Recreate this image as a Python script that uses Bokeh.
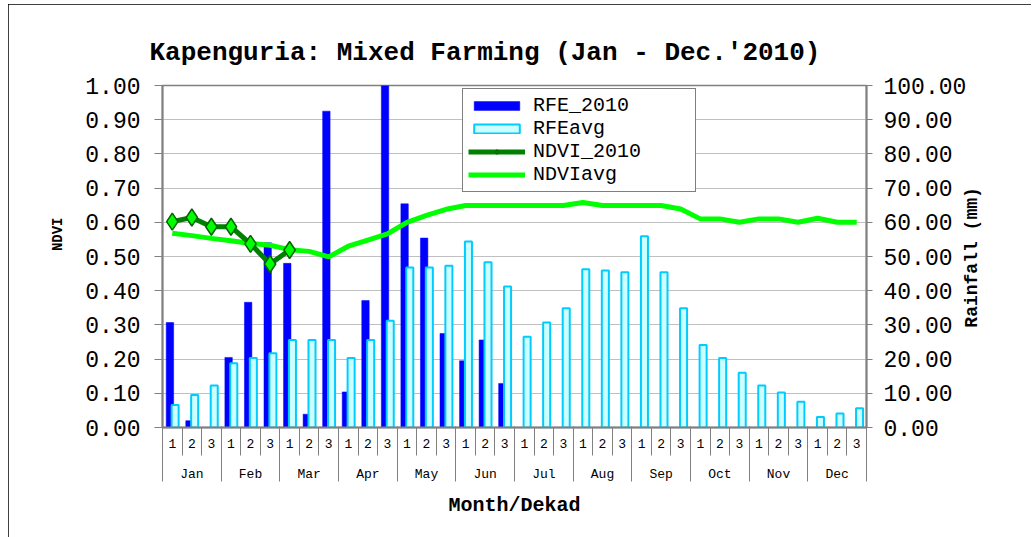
import math
from bokeh.plotting import figure
from bokeh.models import (Range1d, LinearAxis, FixedTicker, PrintfTickFormatter,
                          Legend, LegendItem, ColumnDataSource)
from bokeh.transform import dodge
from bokeh.embed import file_html
from bokeh.resources import INLINE

# ---------------- data ----------------
months = ["Jan", "Feb", "Mar", "Apr", "May", "Jun",
          "Jul", "Aug", "Sep", "Oct", "Nov", "Dec"]
dekads = ["1", "2", "3"]

rfe_2010 = [30.7, 2.0, 0.0, 20.5, 36.6, 54.0, 48.0, 3.9, 92.5, 10.4, 37.1, 101.0,
            65.4, 55.4, 27.5, 19.5, 25.6, 12.9, 0, 0, 0, 0, 0, 0,
            0, 0, 0, 0, 0, 0, 0, 0, 0, 0, 0, 0]
rfe_avg = [6.6, 9.5, 12.3, 18.8, 20.3, 21.7, 25.6, 25.6, 25.6, 20.3, 25.6, 31.2,
           46.8, 46.8, 47.3, 54.4, 48.3, 41.2, 26.5, 30.7, 34.9, 46.3, 45.9, 45.4,
           55.9, 45.4, 34.9, 24.1, 20.3, 16.0, 12.3, 10.2, 7.5, 3.1, 4.1, 5.6]
ndvi_2010 = [0.602, 0.614, 0.587, 0.587, 0.537, 0.478, 0.519]
ndvi_avg = [0.568, 0.561, 0.553, 0.546, 0.538, 0.533, 0.520, 0.515, 0.499, 0.530, 0.548, 0.566,
            0.600, 0.620, 0.638, 0.649, 0.649, 0.649, 0.649, 0.649, 0.649, 0.658, 0.649, 0.649,
            0.649, 0.649, 0.639, 0.610, 0.610, 0.600, 0.610, 0.610, 0.600, 0.612, 0.600, 0.600]

left_ticks = [round(i * 0.1, 1) for i in range(11)]
right_ticks = [i * 10 for i in range(11)]
ndvi_title = "NDVI"
ndvi_title_at = 0.614     # top end of the vertical NDVI title on the NDVI scale
rain_title = "Rainfall (mm)"
rain_title_at = 29.2      # bottom end of the vertical rainfall title on the rainfall scale

n = len(months) * len(dekads)
xc = [i + 0.5 for i in range(n)]

FONT = "Liberation Mono"
GREY = "#808080"

p = figure(width=1023, height=533, output_backend="svg", toolbar_location=None,
           x_range=Range1d(0, n), y_range=Range1d(0, 1),
           x_axis_location=None,
           min_border_left=154, min_border_right=165,
           min_border_top=81, min_border_bottom=110)
p.styles = {"margin": "4px 0px 0px 8px",
            "outline": "1px solid #000000", "outline-offset": "-1px"}
p.extra_y_ranges = {"rain": Range1d(0, 100)}
p.outline_line_color = GREY
p.outline_line_width = 1.5
p.background_fill_color = "white"
p.border_fill_color = "white"

# title
p.title.text = "Kapenguria: Mixed Farming (Jan - Dec.'2010)"
p.title.text_font = FONT
p.title.text_font_size = "26px"
p.title.text_font_style = "bold"
p.title.text_color = "black"
p.title.align = "left"
p.title.offset = -13
p.title.standoff = 35

# left axis
ya = p.yaxis[0]
ya.ticker = FixedTicker(ticks=left_ticks)
ya.formatter = PrintfTickFormatter(format="%.2f")
ya.major_label_text_font = FONT
ya.major_label_text_font_size = "23px"
ya.major_label_text_color = "black"
ya.major_label_standoff = 14
ya.major_tick_out = 8
ya.major_tick_in = 0
ya.minor_tick_out = 0
ya.minor_tick_in = 0
ya.major_tick_line_color = GREY
ya.axis_line_color = GREY
ya.axis_line_width = 2

# left axis title, reading bottom-to-top
yl = LinearAxis(ticker=FixedTicker(ticks=[ndvi_title_at]))
yl.major_label_overrides = {ndvi_title_at: ndvi_title}
yl.major_label_orientation = math.pi / 2
yl.major_label_text_font = FONT
yl.major_label_text_font_size = "14px"
yl.major_label_text_font_style = "bold"
yl.major_label_text_color = "black"
yl.major_label_standoff = 24
yl.axis_line_color = None
yl.major_tick_out = 0
yl.major_tick_in = 0
yl.minor_tick_out = 0
yl.minor_tick_in = 0
p.add_layout(yl, "left")

p.ygrid.ticker = FixedTicker(ticks=left_ticks)
p.ygrid.grid_line_color = "#c0c0c0"
p.ygrid.grid_line_width = 1
p.xgrid.visible = False

# right axis (ticks)
ra = LinearAxis(y_range_name="rain",
                ticker=FixedTicker(ticks=right_ticks),
                formatter=PrintfTickFormatter(format="%.2f"))
ra.major_label_text_font = FONT
ra.major_label_text_font_size = "23px"
ra.major_label_text_color = "black"
ra.major_label_standoff = 11
ra.major_tick_out = 6
ra.major_tick_in = 0
ra.minor_tick_out = 0
ra.minor_tick_in = 0
ra.major_tick_line_color = GREY
ra.axis_line_color = GREY
ra.axis_line_width = 2
p.add_layout(ra, "right")

# right axis title, reading bottom-to-top
rl = LinearAxis(y_range_name="rain", ticker=FixedTicker(ticks=[rain_title_at]))
rl.major_label_overrides = {rain_title_at: rain_title}
rl.major_label_orientation = math.pi / 2
rl.major_label_text_font = FONT
rl.major_label_text_font_size = "18px"
rl.major_label_text_font_style = "bold"
rl.major_label_text_color = "black"
rl.major_label_standoff = 3
rl.axis_line_color = None
rl.major_tick_out = 0
rl.major_tick_in = 0
rl.minor_tick_out = 0
rl.minor_tick_in = 0
p.add_layout(rl, "right")

# bottom axes: dekads (next to the frame) and months (stacked below)
H_LABEL = 13
DEK_STANDOFF = -17
SIZE_A = 28 + DEK_STANDOFF + H_LABEL
boundaries = list(range(n + 1))
dek_axis = LinearAxis(ticker=FixedTicker(ticks=xc, minor_ticks=boundaries))
dek_axis.major_label_overrides = {xc[i]: dekads[i % 3] for i in range(n)}
dek_axis.major_label_text_font = FONT
dek_axis.major_label_text_font_size = "13px"
dek_axis.major_label_text_color = "black"
dek_axis.major_label_standoff = DEK_STANDOFF
dek_axis.major_tick_out = 0
dek_axis.major_tick_in = 0
dek_axis.minor_tick_out = 28
dek_axis.minor_tick_in = 0
dek_axis.minor_tick_line_color = GREY
dek_axis.axis_line_color = GREY
dek_axis.axis_line_width = 2
p.add_layout(dek_axis, "below")

mcent = [3 * j + 1.5 for j in range(len(months))]
mbound = [3 * j for j in range(len(months) + 1)]
mon_axis = LinearAxis(ticker=FixedTicker(ticks=mcent, minor_ticks=mbound))
mon_axis.major_label_overrides = {mcent[j]: months[j] for j in range(len(months))}
mon_axis.major_label_text_font = FONT
mon_axis.major_label_text_font_size = "13px"
mon_axis.major_label_text_color = "black"
mon_axis.major_label_standoff = 16 - (55 - SIZE_A)
mon_axis.major_tick_out = 0
mon_axis.major_tick_in = 0
mon_axis.minor_tick_out = 55 - SIZE_A
mon_axis.minor_tick_in = SIZE_A
mon_axis.minor_tick_line_color = GREY
mon_axis.axis_line_color = None
mon_axis.axis_label = "Month/Dekad"
mon_axis.axis_label_text_font = FONT
mon_axis.axis_label_text_font_size = "20px"
mon_axis.axis_label_text_font_style = "bold"
mon_axis.axis_label_text_color = "black"
mon_axis.axis_label_standoff = 9
p.add_layout(mon_axis, "below")

# ---------------- glyphs ----------------
src = ColumnDataSource(dict(x=xc, rfe=rfe_2010, avg=rfe_avg, navg=ndvi_avg))
src_n = ColumnDataSource(dict(x=xc[:len(ndvi_2010)], nd=ndvi_2010))

r_rfe = p.vbar(x=dodge("x", -0.12, range=p.x_range), top="rfe", source=src,
               width=0.38, bottom=0, y_range_name="rain",
               fill_color="#0000ff", line_color="#0000ff", line_width=0.5)
r_avg = p.vbar(x=dodge("x", 0.145, range=p.x_range), top="avg", source=src,
               width=0.36, bottom=0, y_range_name="rain",
               fill_color="#ccffff", line_color="#00ccff", line_width=2)

r_navg = p.line(x="x", y="navg", source=src, line_color="#00ff00", line_width=5)
r_nl = p.line(x="x", y="nd", source=src_n, line_color="#008000", line_width=5)
r_nm = p.scatter(x="x", y="nd", source=src_n, marker="diamond", size=17,
                 fill_color="#00ff00", line_color="#006400", line_width=1.5)

legend = Legend(items=[
    LegendItem(label="RFE_2010", renderers=[r_rfe]),
    LegendItem(label="RFEavg", renderers=[r_avg]),
    LegendItem(label="NDVI_2010", renderers=[r_nl, r_nm]),
    LegendItem(label="NDVIavg", renderers=[r_navg]),
], location=(300, 235))
legend.label_text_font = FONT
legend.label_text_font_size = "20px"
legend.label_text_color = "black"
legend.glyph_width = 57
legend.glyph_height = 11
legend.label_standoff = 8
legend.label_width = 157
legend.label_height = 20
legend.spacing = 0
legend.padding = 5
legend.margin = 0
legend.border_line_color = "black"
legend.border_line_width = 1.5
legend.background_fill_color = "white"
legend.background_fill_alpha = 1.0
p.add_layout(legend, "center")

open("out.html", "w").write(file_html(p, INLINE))
